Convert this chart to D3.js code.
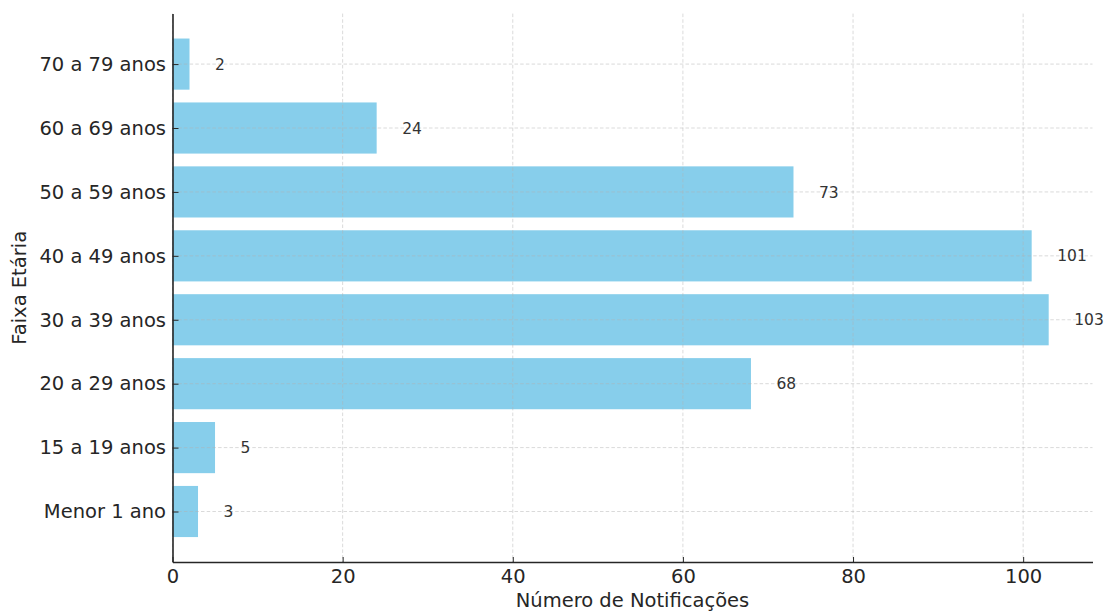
<!DOCTYPE html>
<html>
<head>
<meta charset="utf-8">
<script src="https://cdn.jsdelivr.net/npm/d3@7"></script>
<style>
  html, body { margin: 0; padding: 0; background: #fff; }
  svg { display: block; }
  text { font-family: "DejaVu Sans", sans-serif; }
</style>
</head>
<body>
<svg id="chart" width="1105" height="612"></svg>
<script>
const categories = ["Menor 1 ano", "15 a 19 anos", "20 a 29 anos", "30 a 39 anos", "40 a 49 anos", "50 a 59 anos", "60 a 69 anos", "70 a 79 anos"];
const values = [3, 5, 68, 103, 101, 73, 24, 2];
const xTicks = [0, 20, 40, 60, 80, 100];
const xTitle = "Número de Notificações";
const yTitle = "Faixa Etária";

const svg = d3.select("#chart");
const mLeft = 172.5, mRight = 1092.5, mTop = 13.6, mBottom = 562;

const xMax = d3.max(values) * 1.05;
const x = d3.scaleLinear().domain([0, xMax]).range([mLeft, mRight]);
const barH = 0.8;
const n = categories.length;
const yLo = -barH / 2 - 0.05 * (n - 1 + barH);
const yHi = n - 1 + barH / 2 + 0.05 * (n - 1 + barH);
const y = d3.scaleLinear().domain([yLo, yHi]).range([mBottom, mTop]);
const data = categories.map((c, i) => ({ c, v: values[i], i }));

// bars
svg.append("g").selectAll("rect").data(data).join("rect")
  .attr("x", x(0))
  .attr("y", d => y(d.i + barH / 2))
  .attr("width", d => x(d.v) - x(0))
  .attr("height", d => y(d.i - barH / 2) - y(d.i + barH / 2))
  .attr("fill", "#87CEEB");

// grid (drawn on top)
const grid = svg.append("g").attr("stroke", "#b0b0b0").attr("stroke-opacity", 0.6)
  .attr("stroke-width", 0.8).attr("stroke-dasharray", "3.5,2.2");
grid.selectAll("line.v").data(xTicks).join("line").attr("class", "v")
  .attr("x1", d => x(d)).attr("x2", d => x(d)).attr("y1", mTop).attr("y2", mBottom);
grid.selectAll("line.h").data(data).join("line").attr("class", "h")
  .attr("x1", mLeft).attr("x2", mRight).attr("y1", d => y(d.i)).attr("y2", d => y(d.i));

// value labels
svg.append("g").selectAll("text").data(data).join("text")
  .attr("x", d => x(d.v + 3))
  .attr("y", d => y(d.i))
  .attr("dy", "0.36em")
  .attr("font-size", "15.5px")
  .attr("fill", "#333")
  .text(d => d.v);

// x axis
const xAxis = d3.axisBottom(x).tickValues(xTicks).tickSizeInner(-5).tickSizeOuter(0).tickPadding(7);
const gx = svg.append("g").attr("transform", `translate(0,${mBottom})`).call(xAxis);
gx.select(".domain").attr("stroke", "#262626").attr("stroke-width", 1.6);
gx.selectAll(".tick line").attr("stroke", "#262626").attr("stroke-width", 1);
gx.selectAll(".tick text").attr("font-size", "19.5px").attr("fill", "#262626").attr("font-family", "DejaVu Sans");

// y axis
const yAxis = d3.axisLeft(y).tickValues(d3.range(n)).tickFormat(i => categories[i])
  .tickSizeInner(-6).tickSizeOuter(0).tickPadding(6.5);
const gy = svg.append("g").attr("transform", `translate(${mLeft},0)`).call(yAxis);
gy.select(".domain").attr("stroke", "#262626").attr("stroke-width", 1.6);
gy.selectAll(".tick line").attr("stroke", "#262626").attr("stroke-width", 1);
gy.selectAll(".tick text").attr("font-size", "19.5px").attr("fill", "#262626").attr("font-family", "DejaVu Sans");

// titles
svg.append("text").attr("x", (mLeft + mRight) / 2).attr("y", 607)
  .attr("text-anchor", "middle").attr("font-size", "19.5px").attr("fill", "#262626").text(xTitle);
svg.append("text").attr("transform", `translate(26,${(mTop + mBottom) / 2}) rotate(-90)`)
  .attr("text-anchor", "middle").attr("font-size", "19.5px").attr("fill", "#262626").text(yTitle);
</script>
</body>
</html>
